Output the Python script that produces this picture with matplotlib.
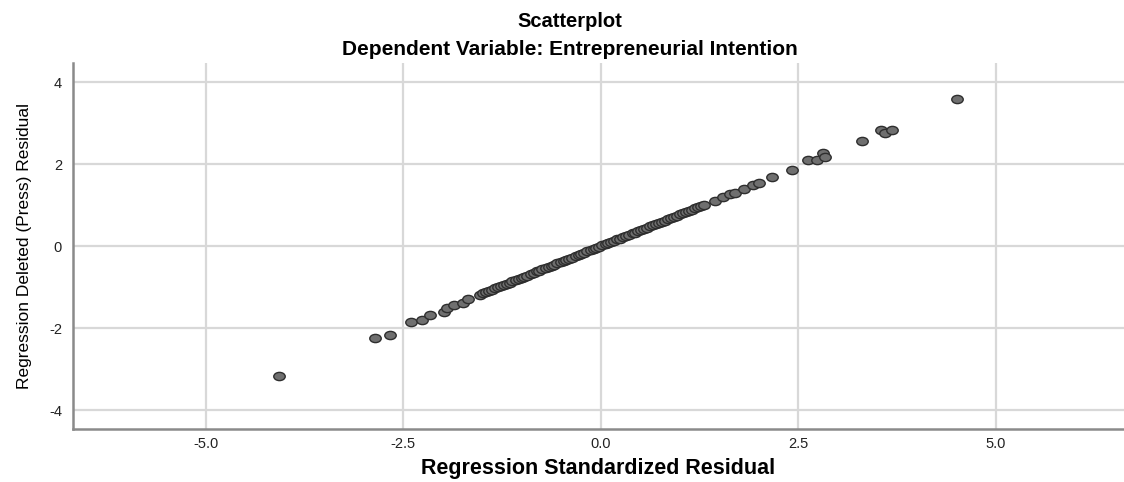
import matplotlib
matplotlib.use("Agg")
import matplotlib.pyplot as plt
from matplotlib.path import Path
from matplotlib.transforms import Affine2D

plt.rcParams['font.family'] = ['Liberation Sans', 'DejaVu Sans']

# standardized residual (x) vs deleted (press) residual (y)
std_resid = [-4.07, -2.86, -2.67, -2.40, -2.26, -2.16, -1.99, -1.95, -1.86, -1.74, -1.68, -1.53,
             -1.49, -1.45, -1.41, -1.38, -1.34, -1.30, -1.27, -1.23, -1.19, -1.15, -1.12, -1.08,
             -1.04, -1.00, -0.97, -0.93, -0.89, -0.85, -0.81, -0.78, -0.74, -0.70, -0.66, -0.62,
             -0.59, -0.55, -0.51, -0.47, -0.44, -0.40, -0.36, -0.32, -0.28, -0.25, -0.21, -0.17,
             -0.13, -0.09, -0.06, -0.02, 0.02, 0.06, 0.09, 0.13, 0.17, 0.21, 0.24, 0.28,
             0.32, 0.36, 0.40, 0.43, 0.47, 0.51, 0.55, 0.58, 0.62, 0.66, 0.70, 0.74,
             0.77, 0.81, 0.85, 0.89, 0.92, 0.96, 1.00, 1.04, 1.08, 1.11, 1.15, 1.19,
             1.23, 1.27, 1.30, 1.45, 1.55, 1.63, 1.70, 1.81, 1.92, 2.00, 2.17, 2.42,
             2.62, 2.73, 2.81, 2.83, 3.31, 3.54, 3.59, 3.68, 4.51]
press_resid = [-3.17, -2.24, -2.16, -1.84, -1.80, -1.68, -1.61, -1.51, -1.43, -1.39, -1.30, -1.20,
               -1.15, -1.12, -1.09, -1.06, -1.03, -1.00, -0.98, -0.95, -0.92, -0.89, -0.86, -0.83,
               -0.80, -0.77, -0.75, -0.72, -0.69, -0.65, -0.62, -0.60, -0.57, -0.54, -0.51, -0.48,
               -0.45, -0.42, -0.39, -0.36, -0.34, -0.31, -0.28, -0.25, -0.22, -0.19, -0.16, -0.13,
               -0.10, -0.07, -0.05, -0.02, 0.02, 0.05, 0.07, 0.10, 0.13, 0.16, 0.18, 0.22,
               0.25, 0.28, 0.31, 0.33, 0.36, 0.39, 0.42, 0.45, 0.48, 0.51, 0.54, 0.57,
               0.59, 0.62, 0.65, 0.69, 0.71, 0.74, 0.77, 0.80, 0.83, 0.86, 0.89, 0.92,
               0.95, 0.98, 1.00, 1.11, 1.20, 1.27, 1.30, 1.39, 1.48, 1.53, 1.68, 1.85,
               2.11, 2.10, 2.27, 2.16, 2.56, 2.84, 2.76, 2.82, 3.58]

x_ticks = [-5.0, -2.5, 0.0, 2.5, 5.0]
x_ticklabels = ["-5.0", "-2.5", "0.0", "2.5", "5.0"]
y_ticks = [-4, -2, 0, 2, 4]
y_ticklabels = ["-4", "-2", "0", "2", "4"]

# the source image is stretched sideways, so the dots are slightly wide ellipses
ellipse = Path.unit_circle().transformed(Affine2D().scale(1.39, 1.0))

fig = plt.figure(figsize=(11.24, 4.82), dpi=100)
ax = fig.add_axes([0.065, 0.110, 0.935, 0.759])

ax.scatter(std_resid, press_resid, s=68, marker=ellipse, facecolor='#6f6f6f',
           edgecolor='#2e2e2e', linewidth=1.0, zorder=3)

ax.set_xlim(-6.68, 6.62)
ax.set_ylim(-4.46, 4.46)
ax.set_xticks(x_ticks)
ax.set_xticklabels(x_ticklabels)
ax.set_yticks(y_ticks)
ax.set_yticklabels(y_ticklabels)
ax.grid(True, color='#d8d8d8', linewidth=1.6, zorder=0)
ax.set_axisbelow(True)

for side in ['top', 'right']:
    ax.spines[side].set_visible(False)
for side in ['left', 'bottom']:
    ax.spines[side].set_color('#8a8a8a')
    ax.spines[side].set_linewidth(1.8)

ax.tick_params(axis='both', length=0, labelsize=10.5, labelcolor='#222222')
ax.tick_params(axis='x', pad=6)
ax.tick_params(axis='y', pad=8)

ax.set_xlabel('Regression Standardized Residual', fontsize=15.5, fontweight='bold',
              va='baseline')
ax.xaxis.set_label_coords(0.5, -0.123)
ax.set_ylabel('Regression Deleted (Press) Residual', fontsize=12.5, labelpad=12)

fig.text(0.507, 0.944, 'Scatterplot', ha='center', va='baseline', fontsize=14.5, fontweight='bold')
fig.text(0.507, 0.886, 'Dependent Variable: Entrepreneurial Intention', ha='center',
         va='baseline', fontsize=15, fontweight='bold')

fig.savefig('out.png', dpi=100)
